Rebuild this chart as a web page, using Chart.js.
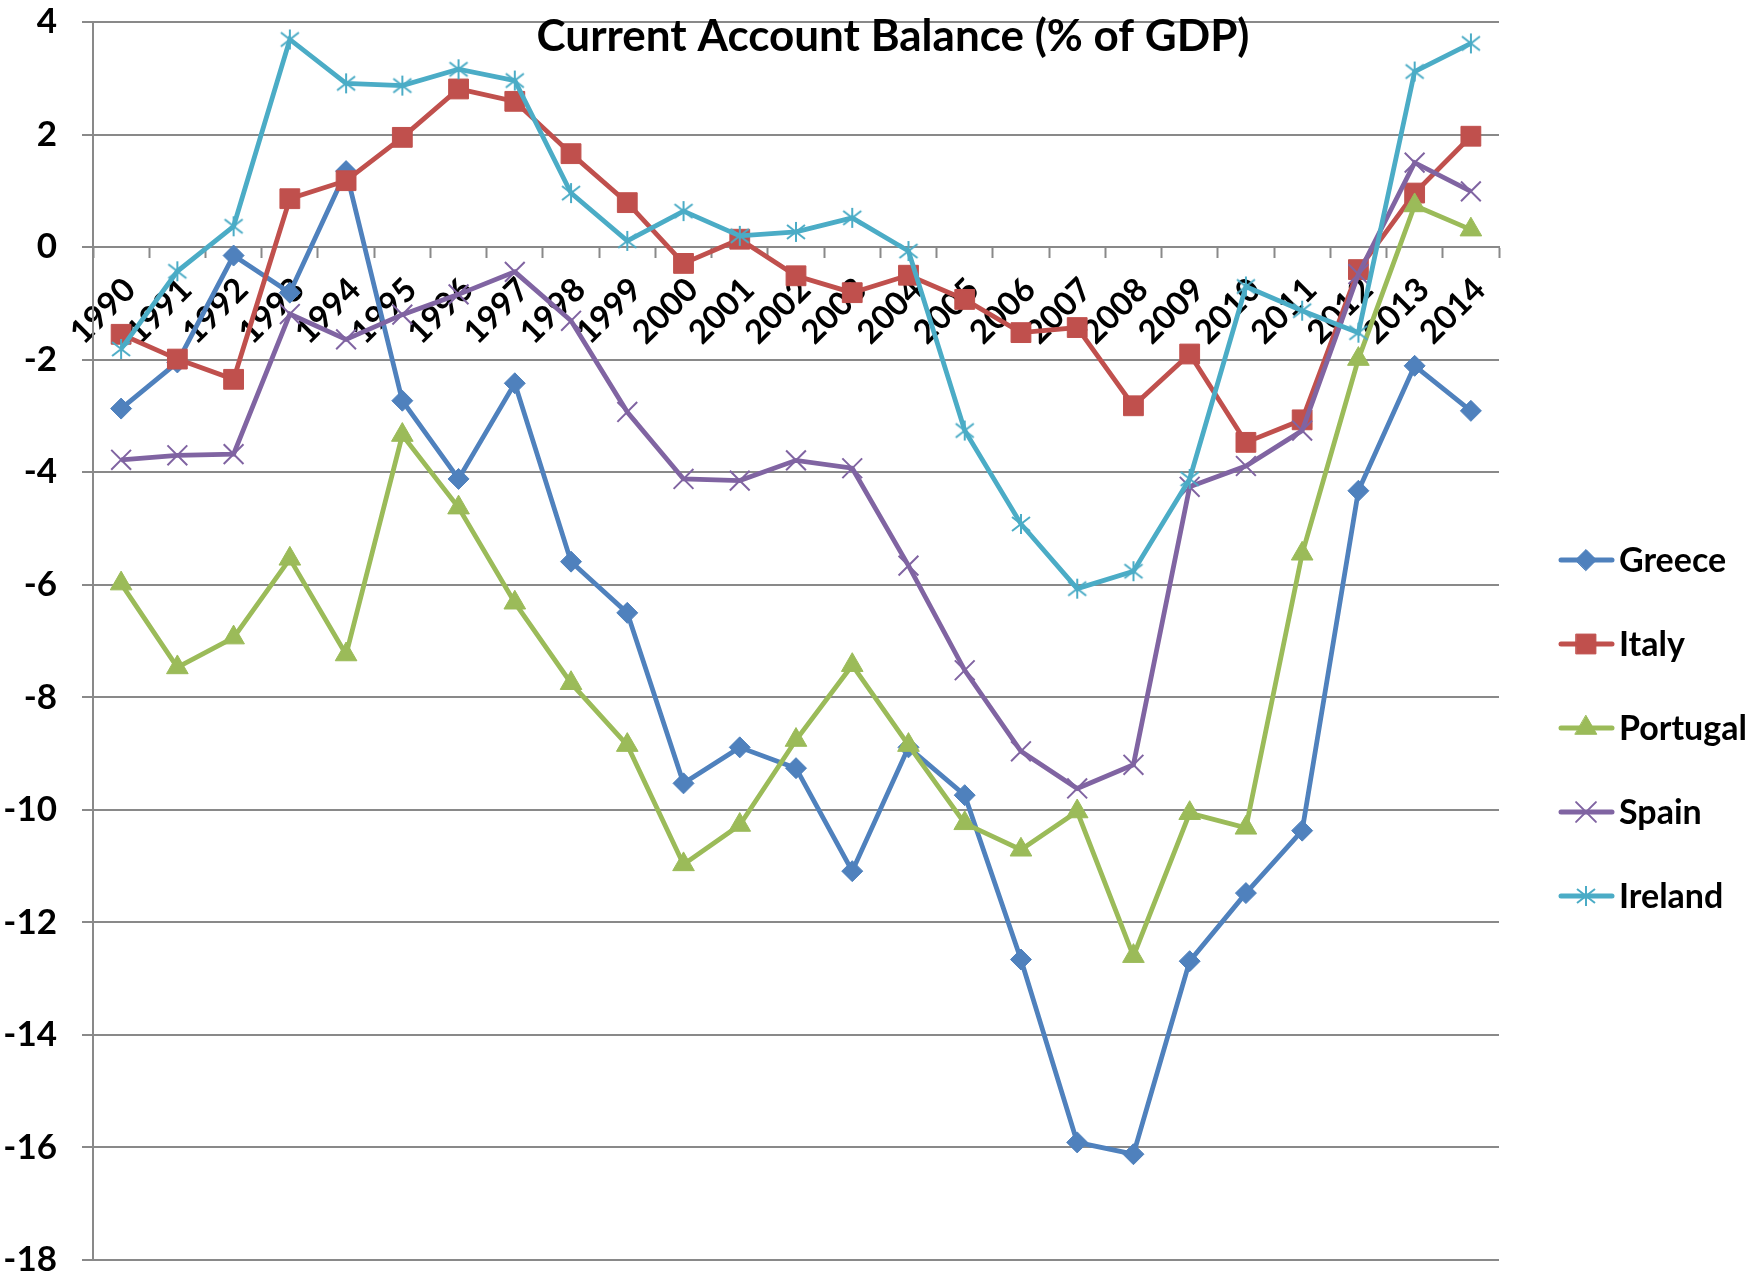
<!DOCTYPE html>
<html>
<head>
<meta charset="utf-8">
<title>Current Account Balance (% of GDP)</title>
<script src="https://cdn.jsdelivr.net/npm/chart.js@4.4.1/dist/chart.umd.min.js"></script>
<style>
  html, body { margin: 0; padding: 0; background: #fff; }
  canvas { display: block; }
</style>
</head>
<body>
<canvas id="chart" width="1748" height="1276"></canvas>
<script>
const title = "Current Account Balance (% of GDP)";

const years = ["1990", "1991", "1992", "1993", "1994", "1995", "1996", "1997", "1998", "1999",
  "2000", "2001", "2002", "2003", "2004", "2005", "2006", "2007", "2008", "2009",
  "2010", "2011", "2012", "2013", "2014"];

const greece = [-2.87, -2.05, -0.15, -0.81, 1.35, -2.73, -4.12, -2.42, -5.59, -6.5,
  -9.53, -8.89, -9.26, -11.09, -8.89, -9.74, -12.66, -15.91, -16.12, -12.69,
  -11.48, -10.37, -4.33, -2.11, -2.91];
const italy = [-1.55, -1.99, -2.35, 0.86, 1.18, 1.95, 2.81, 2.59, 1.66, 0.79,
  -0.29, 0.14, -0.51, -0.81, -0.5, -0.93, -1.52, -1.43, -2.82, -1.9,
  -3.47, -3.07, -0.4, 0.96, 1.97];
const portugal = [-5.98, -7.47, -6.94, -5.54, -7.24, -3.34, -4.63, -6.32, -7.75, -8.85,
  -10.97, -10.27, -8.76, -7.43, -8.85, -10.24, -10.71, -10.03, -12.6, -10.06,
  -10.32, -5.45, -1.99, 0.74, 0.31];
const spain = [-3.78, -3.7, -3.68, -1.19, -1.64, -1.2, -0.84, -0.44, -1.31, -2.93,
  -4.12, -4.15, -3.79, -3.93, -5.66, -7.52, -8.96, -9.62, -9.2, -4.26,
  -3.89, -3.26, -0.48, 1.5, 0.99];
const ireland = [-1.81, -0.43, 0.37, 3.69, 2.91, 2.87, 3.16, 2.96, 0.96, 0.11,
  0.64, 0.2, 0.27, 0.52, -0.07, -3.26, -4.92, -6.07, -5.76, -4.12,
  -0.7, -1.13, -1.52, 3.12, 3.62];

const yMin = -18, yMax = 4, yStep = 2;

const FONT = "Lato, 'Open Sans', sans-serif";
const GRID = "#898989";

// excel style asterisk marker
function asterisk(color) {
  const c = document.createElement("canvas");
  c.width = 24; c.height = 24;
  const g = c.getContext("2d");
  g.strokeStyle = color;
  g.lineWidth = 2;
  g.beginPath();
  g.moveTo(12, 2); g.lineTo(12, 22);
  g.moveTo(3, 5); g.lineTo(21, 19);
  g.moveTo(21, 5); g.lineTo(3, 19);
  g.stroke();
  return c;
}

function series(label, data, color, style, radius, order, bw = 1) {
  return {
    label, data, order,
    borderColor: color,
    backgroundColor: color,
    borderWidth: 4.8,
    pointStyle: style,
    pointRadius: radius,
    pointHoverRadius: radius,
    pointBackgroundColor: color,
    pointBorderColor: color,
    pointBorderWidth: bw,
    tension: 0
  };
}

const sideLegend = {
  id: "sideLegend",
  afterDraw(chart) {
    const ctx = chart.ctx;
    ctx.save();
    ctx.fillStyle = "#000";
    ctx.font = "bold 44px " + FONT;
    ctx.textAlign = "center";
    ctx.textBaseline = "alphabetic";
    ctx.fillText(title, 893, 51);

    chart.data.datasets.forEach((ds, i) => {
      const y = 560 + i * 84;
      ctx.strokeStyle = ds.borderColor;
      ctx.lineWidth = 5;
      ctx.lineCap = "round";
      ctx.beginPath();
      ctx.moveTo(1561, y);
      ctx.lineTo(1612, y);
      ctx.stroke();
      ctx.fillStyle = ds.pointBackgroundColor;
      ctx.lineWidth = ds.pointBorderWidth;
      Chart.helpers.drawPoint(ctx, { pointStyle: ds.pointStyle, radius: ds.pointRadius, borderWidth: ds.pointBorderWidth, rotation: 0 }, 1586, y);
      ctx.fillStyle = "#000";
      ctx.font = "bold 34px " + FONT;
      ctx.textAlign = "left";
      ctx.fillText(ds.label, 1619, y + 12);
    });
    ctx.restore();
  }
};

new Chart(document.getElementById("chart"), {
  type: "line",
  data: {
    labels: years,
    datasets: [
      series("Greece", greece, "#4F81BD", "rectRot", 10.5, 5),
      series("Italy", italy, "#C0504D", "rect", 14, 4),
      series("Portugal", portugal, "#9BBB59", "triangle", 12.5, 3),
      series("Spain", spain, "#8064A2", "crossRot", 14, 2, 2),
      series("Ireland", ireland, "#4BACC6", asterisk("#4BACC6"), 11, 1)
    ]
  },
  options: {
    responsive: false,
    animation: false,
    layout: { padding: { top: 22, right: 249, bottom: 13, left: 0 } },
    plugins: { legend: { display: false }, title: { display: false }, tooltip: { enabled: false } },
    scales: {
      x: {
        type: "category",
        offset: true,
        position: { y: 0 },
        grid: { offset: true, drawOnChartArea: false, drawTicks: true, tickLength: 10, tickColor: GRID, tickWidth: 2 },
        border: { color: GRID, width: 2 },
        ticks: { autoSkip: false, minRotation: 45, maxRotation: 45, padding: 13, labelOffset: 9, color: "#000", font: { family: FONT, size: 33, weight: "bold" } },
        afterFit(s) { s.paddingLeft = 0; s.paddingRight = 0; }
      },
      y: {
        min: yMin,
        max: yMax,
        ticks: { stepSize: yStep, padding: 25, color: "#000", font: { family: FONT, size: 35, weight: "bold" } },
        grid: { color: GRID, lineWidth: 2, tickLength: 11, tickColor: GRID },
        border: { color: GRID, width: 2 },
        afterFit(s) { s.width = 93; s.paddingTop = 0; s.paddingBottom = 0; }
      }
    }
  },
  plugins: [sideLegend]
});
</script>
</body>
</html>
